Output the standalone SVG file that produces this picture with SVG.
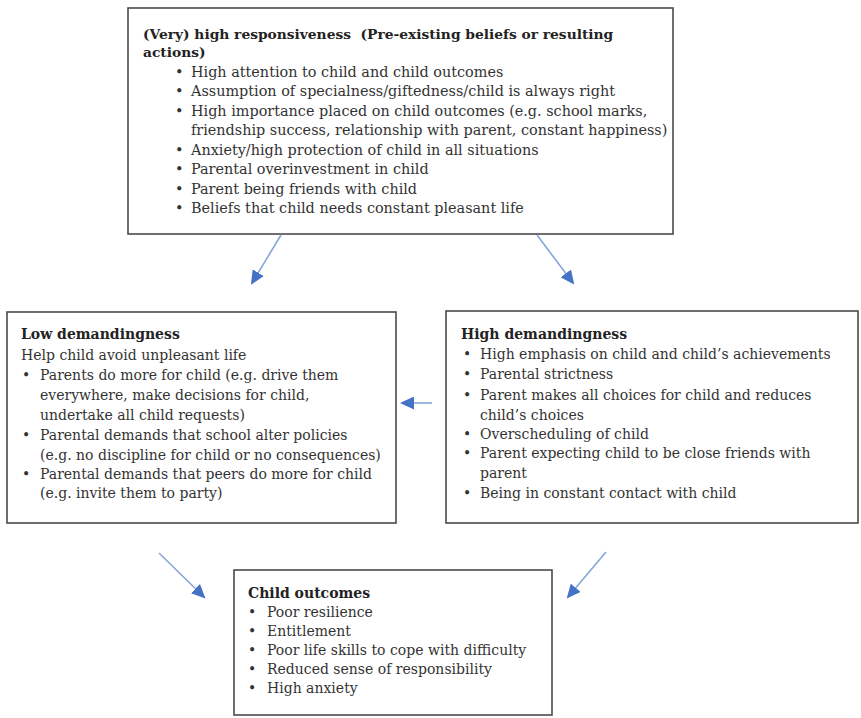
<svg xmlns="http://www.w3.org/2000/svg" width="861" height="718" viewBox="0 0 861 718">
<style>
.box{fill:#ffffff;stroke:#4a4a4a;stroke-width:1.6}
.t{font-family:"DejaVu Serif","Liberation Serif",serif;font-size:14px;fill:#333333}
.b{font-weight:bold;fill:#222222}
.top{font-size:14.4px}
.topb{font-size:13.8px}
.conn line{stroke:#86a6d9;stroke-width:1.6}
</style>
<defs>
<marker id="ah" markerUnits="userSpaceOnUse" markerWidth="15" markerHeight="13" refX="12" refY="6.5" orient="auto">
<path d="M0,0 L14,6.5 L0,13 Z" fill="#4472c4"/>
</marker>
</defs>
<rect width="861" height="718" fill="#ffffff"/>

<g id="responsiveness">
<rect class="box" x="128" y="8" width="545" height="226"/>
<text class="t b topb" x="143" y="39" xml:space="preserve">(Very) high responsiveness  (Pre-existing beliefs or resulting</text>
<text class="t b topb" x="143" y="57">actions)</text>
<g class="t top">
<text x="175" y="77">•</text><text x="191" y="77">High attention to child and child outcomes</text>
<text x="175" y="96">•</text><text x="191" y="96">Assumption of specialness/giftedness/child is always right</text>
<text x="175" y="116">•</text><text x="191" y="116">High importance placed on child outcomes (e.g. school marks,</text>
<text x="191" y="135">friendship success, relationship with parent, constant happiness)</text>
<text x="175" y="155">•</text><text x="191" y="155">Anxiety/high protection of child in all situations</text>
<text x="175" y="174">•</text><text x="191" y="174">Parental overinvestment in child</text>
<text x="175" y="194">•</text><text x="191" y="194">Parent being friends with child</text>
<text x="175" y="213">•</text><text x="191" y="213">Beliefs that child needs constant pleasant life</text>
</g>
</g>

<g id="low-demandingness">
<rect class="box" x="7" y="312" width="389" height="211"/>
<text class="t b" x="21" y="339">Low demandingness</text>
<g class="t">
<text x="21" y="360">Help child avoid unpleasant life</text>
<text x="22" y="380">•</text><text x="40" y="380">Parents do more for child (e.g. drive them</text>
<text x="40" y="400">everywhere, make decisions for child,</text>
<text x="40" y="420">undertake all child requests)</text>
<text x="22" y="440">•</text><text x="40" y="440">Parental demands that school alter policies</text>
<text x="40" y="460">(e.g. no discipline for child or no consequences)</text>
<text x="22" y="479">•</text><text x="40" y="479">Parental demands that peers do more for child</text>
<text x="40" y="498">(e.g. invite them to party)</text>
</g>
</g>

<g id="high-demandingness">
<rect class="box" x="446" y="311" width="412" height="212"/>
<text class="t b" x="461" y="339">High demandingness</text>
<g class="t">
<text x="463" y="359">•</text><text x="480" y="359">High emphasis on child and child’s achievements</text>
<text x="463" y="379">•</text><text x="480" y="379">Parental strictness</text>
<text x="463" y="400">•</text><text x="480" y="400">Parent makes all choices for child and reduces</text>
<text x="480" y="420">child’s choices</text>
<text x="463" y="439">•</text><text x="480" y="439">Overscheduling of child</text>
<text x="463" y="458">•</text><text x="480" y="458">Parent expecting child to be close friends with</text>
<text x="480" y="478">parent</text>
<text x="463" y="498">•</text><text x="480" y="498">Being in constant contact with child</text>
</g>
</g>

<g id="child-outcomes">
<rect class="box" x="234" y="570" width="318" height="145"/>
<text class="t b" x="248" y="598">Child outcomes</text>
<g class="t">
<text x="248" y="617">•</text><text x="267" y="617">Poor resilience</text>
<text x="248" y="636">•</text><text x="267" y="636">Entitlement</text>
<text x="248" y="655">•</text><text x="267" y="655">Poor life skills to cope with difficulty</text>
<text x="248" y="674">•</text><text x="267" y="674">Reduced sense of responsibility</text>
<text x="248" y="693">•</text><text x="267" y="693">High anxiety</text>
</g>
</g>

<g id="connectors" class="conn">
<line x1="281" y1="235" x2="252" y2="283" marker-end="url(#ah)"/>
<line x1="537" y1="235" x2="573" y2="283" marker-end="url(#ah)"/>
<line x1="432" y1="403" x2="402" y2="403" marker-end="url(#ah)"/>
<line x1="159" y1="553" x2="204" y2="597" marker-end="url(#ah)"/>
<line x1="606" y1="552" x2="568" y2="597" marker-end="url(#ah)"/>
</g>
</svg>
